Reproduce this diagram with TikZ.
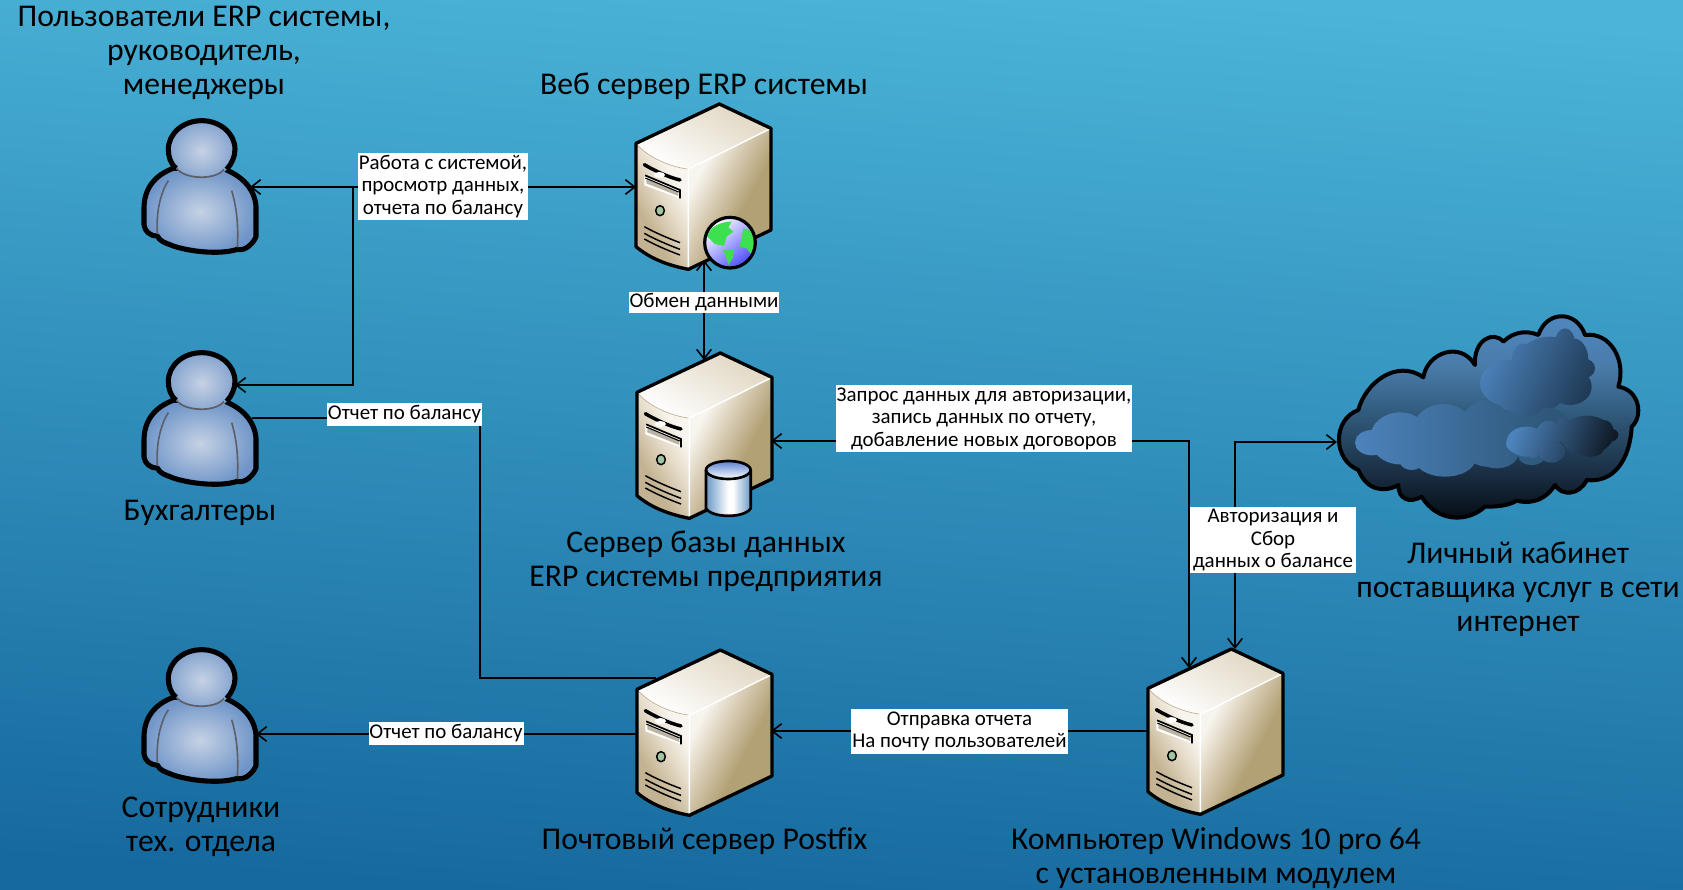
\documentclass[tikz,border=0pt]{standalone}
\usepackage{fontspec}
\setmainfont{Carlito}
\usetikzlibrary{arrows.meta}
\definecolor{bgtop}{HTML}{4BB4D8}
\definecolor{bgmid}{HTML}{3191BF}
\definecolor{bgbot}{HTML}{16699E}
\definecolor{srvA}{HTML}{E6DDCB}
\definecolor{srvB}{HTML}{F8F5EE}
\definecolor{srvC}{HTML}{D6CAB1}
\definecolor{srvD}{HTML}{B3A176}
\definecolor{srvE}{HTML}{C4B392}
\definecolor{srvF}{HTML}{E0D6C1}
\definecolor{cylA}{HTML}{6A98C6}
\definecolor{gGreen}{HTML}{3DE04E}
\definecolor{persA}{HTML}{C6D2E5}
\definecolor{persB}{HTML}{6F95C8}
\definecolor{persC}{HTML}{5B5F68}
\definecolor{persD}{HTML}{84A3CE}
\definecolor{cloudA}{HTML}{03090F}
\definecolor{cloudB}{HTML}{1A2F44}
\definecolor{cloudC}{HTML}{2F5878}
\definecolor{cloudD}{HTML}{4A7CAB}
\definecolor{cloudE}{HTML}{4F88BF}
\definecolor{puffL}{HTML}{4C83BC}
\definecolor{puffR}{HTML}{2B5272}
\definecolor{puffM}{HTML}{1F3A55}
\definecolor{puffD}{HTML}{0F1A26}
\pgfdeclarehorizontalshading{srvright}{100bp}{color(0bp)=(srvB); color(31bp)=(srvB); color(44bp)=(srvC); color(58bp)=(srvD); color(100bp)=(srvD)}
\pgfdeclarehorizontalshading{srvfront}{100bp}{color(0bp)=(srvE); color(36bp)=(srvE); color(54bp)=(srvA); color(66bp)=(srvB); color(100bp)=(srvB)}
\pgfdeclarehorizontalshading{cylbody}{100bp}{color(0bp)=(cylA); color(25bp)=(cylA); color(50bp)=(white); color(55bp)=(white); color(75bp)=(cylA); color(100bp)=(cylA)}
\pgfdeclareverticalshading{cloudbody}{100bp}{color(0bp)=(cloudA); color(25bp)=(cloudA); color(37bp)=(cloudB); color(50bp)=(cloudC); color(62bp)=(cloudD); color(75bp)=(cloudE); color(100bp)=(cloudE)}
\tikzset{
  heading/.style={font=\fontsize{23.75pt}{25.2pt}\selectfont,align=center,anchor=base,inner sep=0pt,text=black},
  tag/.style={font=\fontsize{15.7pt}{16.9pt}\selectfont,align=center,fill=white,inner sep=0pt,text=black},
  link/.style={black,line width=1.5pt},
  both/.style={link,{Straight Barb[length=7pt,width=11pt,line width=1.2pt]}-{Straight Barb[length=7pt,width=11pt,line width=1.2pt]}},
  tip/.style={link,-{Straight Barb[length=7pt,width=11pt,line width=1.2pt]}},
  icon/.style={inner sep=0pt,minimum width=#1,minimum height=#1},
  edge3/.style={black,line width=2.5pt,line join=round},
}
\newcommand{\srvicon}[2]{%
\begin{scope}[shift={(600+#1,90+#2)},scale=1/3]
 \shade[shading=srvfront,shading angle=30] (108,160) .. controls (150,205) and (210,230) .. (265,238) -- (265,538) .. controls (200,525) and (150,505) .. (108,470) -- cycle;
 \shade[shading=srvright,shading angle=-28] (265,238) -- (513,115) -- (513,420) -- (265,538) -- cycle;
 \shade[top color=srvF,bottom color=white,shading angle=-30] (108,160) -- (358,42) -- (513,115) -- (265,238) .. controls (210,230) and (150,205) .. (108,160) -- cycle;
 \draw[white,line width=1.1pt] (513,115) -- (265,238) -- (265,535);
 \draw[srvE,line width=.5pt] (112,165) .. controls (150,205) and (210,230) .. (262,237);
 % slot bar
 \draw[black,line width=2.6pt,line cap=round] (133,224) .. controls (160,240) and (205,262) .. (240,270);
 \fill[white] (178,255) ellipse (17 and 9);
 % drive bay
 \fill[white] (133,254) -- (240,298) -- (240,325) -- (133,286) -- cycle;
 \fill[srvC!70!gray] (139,266) -- (235,304) -- (235,318) -- (139,280) -- cycle;
 \draw[black,line width=1.3pt] (135,256) -- (240,300) -- (240,325);
 \draw[black,line width=.8pt] (136,264) -- (236,306);
 % LED
 \draw[black,line width=1.1pt,fill=green!25!gray!60!white] (180,362) ellipse (13 and 15);
 % vents
 \draw[black,line width=1.1pt] (133,410) .. controls (165,428) and (205,445) .. (240,458);
 \draw[black,line width=1.1pt] (133,430) .. controls (165,448) and (205,465) .. (240,478);
 \draw[black,line width=1.1pt] (133,447) .. controls (165,465) and (205,482) .. (240,495);
 % outline
 \draw[edge3] (108,160) -- (358,42) -- (513,115) -- (513,420) -- (265,538) .. controls (200,525) and (150,505) .. (108,470) -- cycle;
\end{scope}}
\newcommand{\persicon}[1]{%
\begin{scope}[shift={(120,100+#1)},scale=1/3]
 \shade[inner color=persA,outer color=persB,draw=black,line width=3.8pt,line join=round] (160,205) .. controls (105,225) and (72,265) .. (72,325) -- (72,375) .. controls (75,395) and (90,408) .. (112,408) .. controls (120,425) and (135,428) .. (160,438) .. controls (210,455) and (300,465) .. (352,448) .. controls (375,455) and (400,430) .. (408,410) -- (408,320) .. controls (405,270) and (370,230) .. (315,208) -- cycle;
 \draw[persC,line width=1.2pt] (145,242) .. controls (120,280) and (108,340) .. (112,402);
 \draw[persC,line width=1.2pt] (335,272) .. controls (350,320) and (356,380) .. (352,442);
 \shade[inner color=persA,outer color=persD] (168,205) .. controls (152,192) and (145,170) .. (145,148) .. controls (145,100) and (190,62) .. (245,62) .. controls (300,62) and (345,100) .. (345,148) .. controls (345,170) and (335,192) .. (320,208) .. controls (290,245) and (195,245) .. (168,205) -- cycle;
 \draw[black,line width=3.8pt] (168,205) .. controls (152,192) and (145,170) .. (145,148) .. controls (145,100) and (190,62) .. (245,62) .. controls (300,62) and (345,100) .. (345,148) .. controls (345,170) and (335,192) .. (320,208);
 \draw[persC,line width=1.3pt] (170,205) .. controls (195,240) and (290,240) .. (312,208);
\end{scope}}
\begin{document}
\begin{tikzpicture}[x=0.75pt,y=-0.75pt]
\useasboundingbox (0,0) rectangle (1683,889);
\shade[top color=bgtop,middle color=bgmid,bottom color=bgbot,shading angle=-4] (0,0) rectangle (1683,889);
% icon anchors
\node[icon=0pt] (u1) at (200,187) {};
\node[icon=0pt] (u2) at (200,419) {};
\node[icon=0pt] (u3) at (200,716) {};
\node[icon=0pt] (web) at (704,187) {};
\node[icon=0pt] (dbs) at (704,436) {};
\node[icon=0pt] (mail) at (704,733) {};
\node[icon=0pt] (pc) at (1216,733) {};
\node[icon=0pt] (net) at (1470,470) {};
% ports
\coordinate (u1p) at (250,187);
\coordinate (webp) at (636,187);
\coordinate (jn) at (353,187);
\coordinate (u2p) at (235,385);
\coordinate (u2q) at (252,418);
\coordinate (webb) at (704,260);
\coordinate (dbt) at (704,360);
\coordinate (dbe) at (771,441);
\coordinate (pcA) at (1189,668);
\coordinate (pcB) at (1235,649);
\coordinate (netp) at (1337,442);
\coordinate (mailt) at (656,678);
\coordinate (mailw) at (637,734);
\coordinate (u3p) at (256,734);
\coordinate (pcw) at (1148,731);
\coordinate (maile) at (771,731);
% lines passing behind icons
\draw[link] (u2q) -| (480,678) -- (mailt);
% persons
\persicon{0}\persicon{232}\persicon{529}
% servers
\srvicon{0}{0}\srvicon{1}{249}\srvicon{1}{546}\srvicon{512}{545}
% globe
\begin{scope}[shift={(600,90)},scale=1/3]
 \shade[top color=white,bottom color=blue!70!white,shading angle=40] (390,458) circle (76);
 \begin{scope}
  \clip (390,458) circle (76);
  \fill[gGreen] (322,440) .. controls (330,410) and (360,395) .. (395,395) -- (385,412) -- (400,425) -- (380,440) -- (372,468) -- (345,462) -- cycle;
  \fill[gGreen] (430,415) -- (465,425) -- (475,470) -- (455,495) -- (440,475) -- (418,470) -- (425,445) -- cycle;
  \fill[gGreen] (368,480) -- (402,478) -- (398,505) -- (385,525) -- (378,500) -- cycle;
 \end{scope}
 \draw[black,line width=2.4pt] (390,458) circle (76);
\end{scope}
% cylinder
\begin{scope}[shift={(620,340)},scale=1/3]
 \shade[shading=cylbody] (258,390) -- (258,505) .. controls (275,535) and (375,535) .. (392,505) -- (392,390) -- cycle;
 \shade[top color=cylA!85!blue,bottom color=white] (325,390) ellipse (67 and 27);
 \draw[cylA!80!blue,line width=.8pt] (258,392) .. controls (280,425) and (370,425) .. (392,392);
 \draw[black,line width=2pt] (258,390) -- (258,505) .. controls (275,535) and (375,535) .. (392,505) -- (392,390);
 \draw[black,line width=2pt] (325,390) ellipse (67 and 27);
\end{scope}
% cloud
\begin{scope}[shift={(1310,290)},scale=1/3]
 \shade[shading=cloudbody]
  (145,360) .. controls (165,280) and (260,205) .. (340,262)
  .. controls (350,190) and (450,150) .. (495,225)
  .. controls (490,150) and (550,120) .. (580,155)
  .. controls (610,125) and (650,120) .. (685,135)
  .. controls (710,60) and (800,60) .. (825,135)
  .. controls (900,125) and (950,210) .. (925,290)
  .. controls (990,300) and (1000,380) .. (965,410)
  .. controls (960,510) and (910,580) .. (830,570)
  .. controls (810,615) and (755,620) .. (735,585)
  .. controls (700,640) and (650,640) .. (620,632)
  .. controls (590,650) and (550,650) .. (525,650)
  .. controls (470,700) and (380,695) .. (335,620)
  .. controls (300,640) and (265,630) .. (265,585)
  .. controls (220,610) and (170,600) .. (145,540)
  .. controls (70,510) and (65,390) .. (145,360) -- cycle;
 \shade[left color=puffL,right color=puffR]
  (270,445) ellipse (90 and 78) (400,430) ellipse (95 and 88) (185,458) ellipse (50 and 38)
  (405,505) ellipse (92 and 55) (305,515) ellipse (35 and 25) (530,430) ellipse (85 and 100)
  (560,490) ellipse (65 and 45) (650,410) ellipse (130 and 70) (665,500) ellipse (40 and 25);
 \shade[top color=puffL,bottom color=puffM,shading angle=65]
  (600,280) ellipse (90 and 70) (645,330) ellipse (60 and 50) (640,210) ellipse (35 and 50)
  (720,240) ellipse (110 and 100) (765,160) ellipse (30 and 45) (790,210) ellipse (45 and 65)
  (820,235) ellipse (35 and 30) (780,290) ellipse (65 and 55) (720,320) ellipse (35 and 35) (590,340) ellipse (20 and 20);
 \shade[top color=puffL,bottom color=puffD,shading angle=70]
  (650,455) ellipse (60 and 45) (625,460) ellipse (37 and 30) (715,430) ellipse (35 and 38)
  (725,485) ellipse (40 and 33) (670,495) ellipse (15 and 10) (760,400) ellipse (20 and 20)
  (830,435) ellipse (80 and 58) (880,420) ellipse (30 and 30) (900,435) ellipse (25 and 20) (840,480) ellipse (40 and 20);
 \draw[black,line width=3pt,line join=round]
  (145,360) .. controls (165,280) and (260,205) .. (340,262)
  .. controls (350,190) and (450,150) .. (495,225)
  .. controls (490,150) and (550,120) .. (580,155)
  .. controls (610,125) and (650,120) .. (685,135)
  .. controls (710,60) and (800,60) .. (825,135)
  .. controls (900,125) and (950,210) .. (925,290)
  .. controls (990,300) and (1000,380) .. (965,410)
  .. controls (960,510) and (910,580) .. (830,570)
  .. controls (810,615) and (755,620) .. (735,585)
  .. controls (700,640) and (650,640) .. (620,632)
  .. controls (590,650) and (550,650) .. (525,650)
  .. controls (470,700) and (380,695) .. (335,620)
  .. controls (300,640) and (265,630) .. (265,585)
  .. controls (220,610) and (170,600) .. (145,540)
  .. controls (70,510) and (65,390) .. (145,360) -- cycle;
\end{scope}
% connectors
\draw[both] (u1p) -- (webp);
\draw[tip] (jn) |- (u2p);
\draw[both] (webb) -- (dbt);
\draw[both] (dbe) -| (pcA);
\draw[both] (netp) -| (pcB);
\draw[tip] (mailw) -- (u3p);
\draw[tip] (pcw) -- (maile);
% tags
\node[tag,minimum width=170*.75pt,minimum height=67*.75pt] (t1) at (443,186.5) {Работа с системой,\\просмотр данных,\\отчета по балансу};
\node[tag,minimum width=150*.75pt,minimum height=21*.75pt] (t2) at (704,302.5) {Обмен данными};
\node[tag,minimum width=155*.75pt,minimum height=23*.75pt] (t3) at (404.5,414.5) {Отчет по балансу};
\node[tag,minimum width=296*.75pt,minimum height=67*.75pt] (t4) at (984,418.5) {Запрос данных для авторизации,\\запись данных по отчету,\\добавление новых договоров};
\node[tag,minimum width=166*.75pt,minimum height=66*.75pt] (t5) at (1273,540) {Авторизация и\\Сбор\\данных о балансе};
\node[tag,minimum width=217*.75pt,minimum height=45*.75pt] (t6) at (959.5,731.5) {Отправка отчета\\На почту пользователей};
\node[tag,minimum width=155*.75pt,minimum height=23*.75pt] (t7) at (446,733.5) {Отчет по балансу};
% headings
\node[heading] (h1) at (204,94) {Пользователи ERP системы,\\руководитель,\\менеджеры};
\node[heading] (h2) at (704,94) {Веб сервер ERP системы};
\node[heading] (h3) at (200,520) {Бухгалтеры};
\node[heading] (h4) at (706,586) {Сервер базы данных\\ERP системы предприятия};
\node[heading] (h5) at (1518,631) {Личный кабинет\\поставщика услуг в сети\hspace*{22pt}\\интернет};
\node[heading] (h6) at (1216,883) {Компьютер Windows 10 pro 64\\с установленным модулем};
\node[heading] (h7) at (704.5,849) {Почтовый сервер Postfix};
\node[heading] (h8) at (201,851) {Сотрудники\\тех. отдела};
\end{tikzpicture}
\end{document}
